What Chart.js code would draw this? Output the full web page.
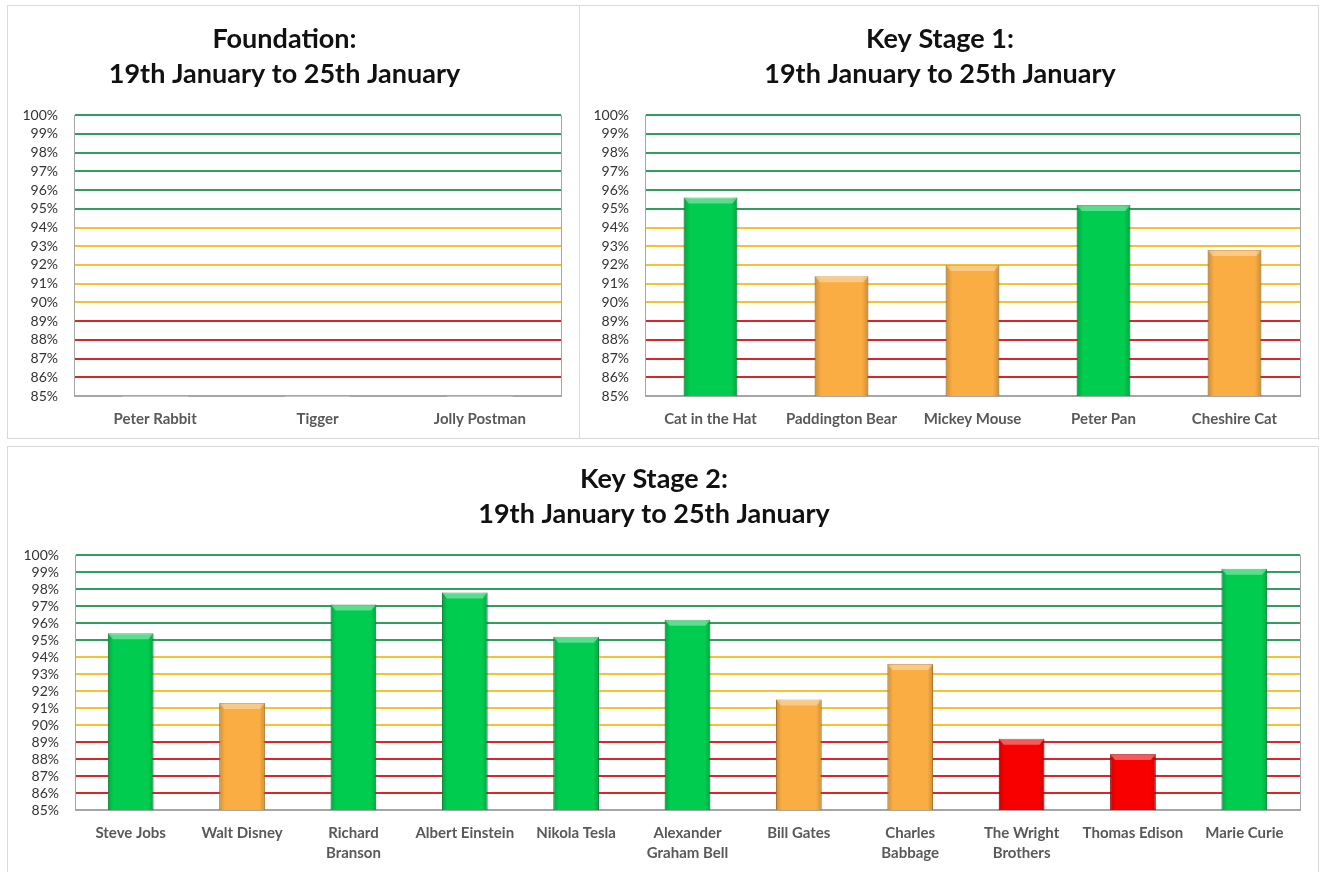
<!DOCTYPE html>
<html>
<head>
<meta charset="utf-8">
<script src="https://cdn.jsdelivr.net/npm/chart.js@4.4.1/dist/chart.umd.min.js"></script>
<style>
  body { margin: 0; background: #fff; width: 1319px; height: 872px; overflow: hidden; position: relative; }
  .panel { position: absolute; border: 1px solid #d9d9d9; box-sizing: border-box; background: #fff; }
  .panel canvas { position: absolute; left: 0; top: 0; }
</style>
</head>
<body>
<div class="panel" id="p1" style="left:7px;top:5px;width:573px;height:434px;"><canvas id="foundationChart"></canvas></div>
<div class="panel" id="p2" style="left:579px;top:5px;width:740px;height:434px;"><canvas id="ks1Chart"></canvas></div>
<div class="panel" id="p3" style="left:7px;top:446px;width:1312px;height:430px;"><canvas id="ks2Chart"></canvas></div>
<script>
// data
const foundationNames = ['Peter Rabbit', 'Tigger', 'Jolly Postman'];
const foundationValues = [null, null, null];

const ks1Names = ['Cat in the Hat', 'Paddington Bear', 'Mickey Mouse', 'Peter Pan', 'Cheshire Cat'];
const ks1Values = [95.6, 91.4, 92.0, 95.2, 92.8];

const ks2Names = ['Steve Jobs', 'Walt Disney', ['Richard', 'Branson'], 'Albert Einstein', 'Nikola Tesla',
  ['Alexander', 'Graham Bell'], 'Bill Gates', ['Charles', 'Babbage'], ['The Wright', 'Brothers'], 'Thomas Edison', 'Marie Curie'];
const ks2Values = [95.4, 91.3, 97.1, 97.8, 95.2, 96.2, 91.5, 93.6, 89.2, 88.3, 99.2];

const yMin = 85, yMax = 100;
const dateRange = '19th January to 25th January';

const GREEN = '#00cc4f', ORANGE = '#f9ad42', RED = '#f80000';
function barColor(v) {
  if (v >= 95) return GREEN;
  if (v >= 90) return ORANGE;
  return RED;
}
function barEdge(v) {
  if (v >= 95) return '#0a9a40';
  if (v >= 90) return '#c9852a';
  return '#b00000';
}
function gridColor(v) {
  if (v <= 85) return '#a6a6a6';
  if (v < 90) return '#d9262a';
  if (v < 95) return '#f5c330';
  return '#2f9e5e';
}

// bevel look on the bars, like the Excel picture
const bevelPlugin = {
  id: 'bevel',
  afterDatasetsDraw(chart) {
    const ctx = chart.ctx, area = chart.chartArea;
    chart.getDatasetMeta(0).data.forEach(bar => {
      if (bar.skip || isNaN(bar.y)) return;
      const l = bar.x - bar.width / 2, r = bar.x + bar.width / 2;
      const t = bar.y, b = Math.min(bar.base, area.bottom);
      ctx.save();
      const g = ctx.createLinearGradient(l, 0, r, 0);
      g.addColorStop(0, 'rgba(0,0,0,0.18)');
      g.addColorStop(0.12, 'rgba(0,0,0,0)');
      g.addColorStop(0.88, 'rgba(0,0,0,0)');
      g.addColorStop(1, 'rgba(0,0,0,0.18)');
      ctx.fillStyle = g;
      ctx.fillRect(l, t, r - l, b - t);
      ctx.beginPath();
      ctx.moveTo(l, t); ctx.lineTo(r, t); ctx.lineTo(r - 5, t + 6); ctx.lineTo(l + 5, t + 6); ctx.closePath();
      ctx.fillStyle = 'rgba(255,255,255,0.35)';
      ctx.fill();
      ctx.restore();
    });
  },
  afterDraw(chart) {
    // right edge of the plot area
    const a = chart.chartArea, ctx = chart.ctx;
    ctx.save();
    ctx.strokeStyle = '#a6a6a6';
    ctx.lineWidth = 1;
    ctx.beginPath();
    ctx.moveTo(a.right + 0.5, a.top);
    ctx.lineTo(a.right + 0.5, a.bottom);
    ctx.stroke();
    ctx.restore();
  }
};

function makeChart(id, title, names, values, opts) {
  return new Chart(document.getElementById(id), {
    type: 'bar',
    data: {
      labels: names,
      datasets: [{
        data: values,
        backgroundColor: values.map(v => barColor(v)),
        borderColor: values.map(v => barEdge(v)),
        borderWidth: 1,
        barPercentage: 0.41,
        categoryPercentage: 1
      }]
    },
    plugins: [bevelPlugin],
    options: {
      responsive: true,
      maintainAspectRatio: false,
      animation: false,
      layout: { padding: { left: 0, right: 18, top: 0, bottom: 0 } },
      plugins: {
        legend: { display: false },
        tooltip: { enabled: false },
        title: {
          display: true,
          text: [title, dateRange],
          color: '#111',
          font: { family: 'Lato', size: 27, weight: 'bold', lineHeight: 1.3 },
          padding: { top: opts.titleTop, bottom: opts.titleBottom }
        }
      },
      scales: {
        x: {
          grid: { color: 'rgba(0,0,0,0)', drawTicks: false },
          border: { display: true, color: '#a6a6a6', width: 1 },
          ticks: {
            color: '#595959',
            padding: 13,
            maxRotation: 0,
            autoSkip: false,
            font: { family: 'Lato', size: 15, weight: 'bold', lineHeight: 1.33 }
          },
          afterFit: s => { s.height = opts.xHeight; }
        },
        y: {
          min: yMin,
          max: yMax,
          grid: {
            drawTicks: false,
            lineWidth: 2,
            color: c => gridColor(c.tick.value)
          },
          border: { display: true, color: '#a6a6a6', width: 1 },
          ticks: {
            stepSize: 1,
            autoSkip: false,
            padding: 16,
            color: '#333',
            font: { family: 'Lato', size: 14 },
            callback: v => v + '%'
          },
          afterFit: s => { s.width = opts.yWidth; }
        }
      }
    }
  });
}

makeChart('foundationChart', 'Foundation:', foundationNames, foundationValues,
  { titleTop: 16, titleBottom: 23, xHeight: 42, yWidth: 66 });
makeChart('ks1Chart', 'Key Stage 1:', ks1Names, ks1Values,
  { titleTop: 16, titleBottom: 23, xHeight: 42, yWidth: 65 });
makeChart('ks2Chart', 'Key Stage 2:', ks2Names, ks2Values,
  { titleTop: 15, titleBottom: 23, xHeight: 65, yWidth: 67 });
</script>
</body>
</html>
